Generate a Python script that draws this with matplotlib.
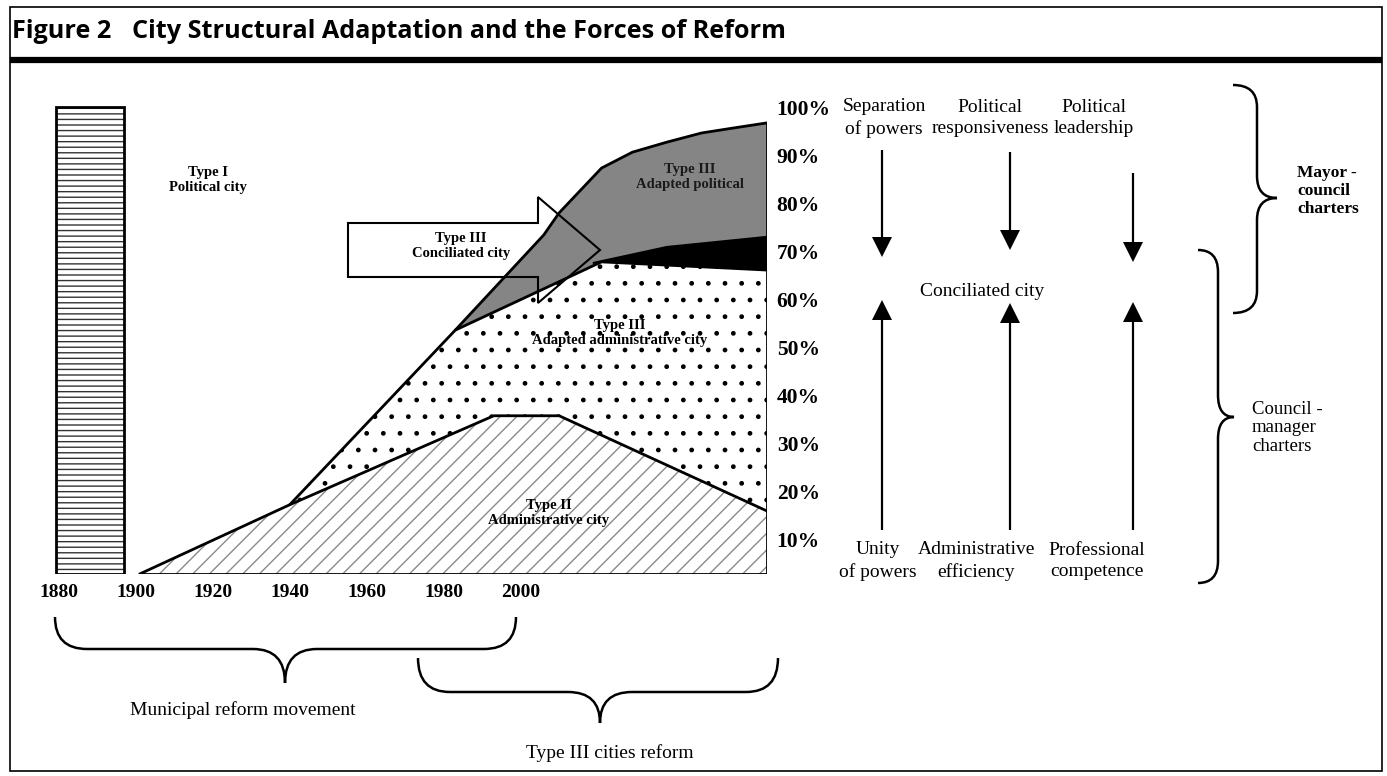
import numpy as np
import matplotlib
matplotlib.use("Agg")
import matplotlib.pyplot as plt
from matplotlib.path import Path
from matplotlib.patches import PathPatch, Polygon, Rectangle

plt.rcParams['font.family'] = ['Liberation Serif', 'DejaVu Serif']
plt.rcParams['hatch.linewidth'] = 1.0

# share of cities (%) by structural type
bar_year = 1888
bar_share = 100          # Type I political city, around 1880

base = 2.9
years_type2 = [1901, 1940, 1993, 2010, 2064]
share_type2 = [2.9, 17.3, 35.8, 35.8, 16.0]

years_outer = [1940, 1983, 2006, 2010, 2021, 2029, 2038, 2047, 2055, 2064]
share_outer = [17.3, 53.6, 73.4, 78.0, 87.3, 90.6, 92.7, 94.6, 95.6, 96.7]

years_admin = [1940, 1983, 2021, 2064]
share_admin = [17.3, 53.6, 67.8, 66.1]

years_black = [2019, 2038, 2064]
share_black = [67.6, 70.9, 73.0]

year_ticks = [1880, 1900, 1920, 1940, 1960, 1980, 2000]
pct_ticks = [10, 20, 30, 40, 50, 60, 70, 80, 90, 100]

W, H = 1387, 776
fig = plt.figure(figsize=(W / 100, H / 100), dpi=100)

# chart axes placed in pixel terms
ax = fig.add_axes([18 / W, 1 - 574 / H, (767 - 18) / W, (574 - 99.8) / H])
ax.set_xlim(1869.4, 2064)
ax.set_ylim(base, 101.5)
ax.patch.set_alpha(0)
for s in ax.spines.values():
    s.set_visible(False)

g = np.linspace(1940, 2064, 800)
t2 = np.interp(g, years_type2, share_type2)
adm = np.interp(g, years_admin, share_admin)
out = np.interp(g, years_outer, share_outer)
blk = np.where(g >= years_black[0], np.interp(g, years_black, share_black), adm)
blk = np.maximum(blk, adm)

ax.fill_between(years_type2, base, share_type2, facecolor='white',
                edgecolor='#8a8a8a', hatch='//', lw=0, zorder=2)
ax.fill_between(g, t2, adm, facecolor='white', edgecolor='black',
                hatch='.', lw=0, zorder=2)
ax.fill_between(g, blk, out, where=out > blk + 1e-6, facecolor='#858585',
                lw=0, zorder=2)
ax.fill_between(g, adm, blk, where=blk > adm, facecolor='black', lw=0, zorder=2)

lk = dict(color='black', lw=2, zorder=3, solid_capstyle='round')
ax.plot(years_type2, share_type2, **lk)
ax.plot(years_outer, share_outer, **lk)
ax.plot(years_admin[1:], share_admin[1:], **lk)
ax.plot(years_black, share_black, color='black', lw=1.5, zorder=3)
ax.plot([years_outer[-1]] * 2, [base, share_outer[-1]], **lk)
ax.plot([years_type2[0], years_type2[-1]], [base, base], **lk)

ax.bar(bar_year, bar_share - base, bottom=base, width=17.7, facecolor='white',
       edgecolor='#333333', hatch='---', lw=0, zorder=2)
ax.bar(bar_year, bar_share - base, bottom=base, width=17.7, fill=False,
       edgecolor='black', lw=2, zorder=3)

ax.set_xticks(year_ticks)
ax.set_xticklabels([str(y) for y in year_ticks], fontsize=14, fontweight='bold')
ax.tick_params(axis='x', length=0, pad=7.5)
ax.yaxis.tick_right()
ax.set_yticks(pct_ticks)
ax.set_yticklabels([f'{p}%' for p in pct_ticks], fontsize=15.5, fontweight='bold')
ax.tick_params(axis='y', length=0, pad=7)

# overlay in pixel coordinates for frame, title and annotations
ov = fig.add_axes([0, 0, 1, 1])
ov.set_xlim(0, W)
ov.set_ylim(H, 0)
ov.axis('off')
ov.patch.set_alpha(0)

ov.add_patch(Rectangle((10, 7), 1372, 764, fill=False, lw=1.2, ec='black'))
ov.plot([10, 1382], [60, 60], color='black', lw=4.5, solid_capstyle='butt')
tk = dict(family=['Open Sans', 'DejaVu Sans'], fontweight='bold',
          fontsize=18.2, va='center')
ov.text(12, 31, 'Figure 2', **tk)
ov.text(132, 31, 'City Structural Adaptation and the Forces of Reform', **tk)

# arrow shape of the conciliated city
ov.add_patch(Polygon([(348, 223), (538, 223), (538, 197), (600, 250),
                      (538, 303), (538, 277), (348, 277)], closed=True,
                     fill=False, lw=1.5, ec='black', zorder=5))

lab = dict(fontsize=10.5, fontweight='bold', ha='center', va='center',
           multialignment='center', linespacing=1.15, zorder=6)
ov.text(208, 180, 'Type I\nPolitical city', **lab)
ov.text(461, 246, 'Type III\nConciliated city', **lab)
ov.text(690, 177, 'Type III\nAdapted political', color='#1a1a1a', **lab)
ov.text(620, 333, 'Type III\nAdapted administrative city', **lab)
ov.text(549, 513, 'Type II\nAdministrative city', **lab)

# forces of reform
rt = dict(fontsize=14, ha='center', va='center', multialignment='center',
          linespacing=1.38)
ov.text(884, 118, 'Separation\nof powers', **rt)
ov.text(990, 118, 'Political\nresponsiveness', **rt)
ov.text(1094, 118, 'Political\nleadership', **rt)
ov.text(982, 292, 'Conciliated city', **rt)
ov.text(878, 561, 'Unity\nof powers', **rt)
ov.text(976, 561, 'Administrative\nefficiency', **rt)
ov.text(1097, 561, 'Professional\ncompetence', **rt)

ak = dict(width=2.2, head_width=20, head_length=20, length_includes_head=True,
          fc='black', ec='black', lw=0)
for x, y0, y1 in [(882, 150, 257), (1010, 152, 250), (1133, 173, 262)]:
    ov.arrow(x, y0, 0, y1 - y0, **ak)
for x, y1 in [(882, 300), (1010, 303), (1133, 302)]:
    ov.arrow(x, 530, 0, y1 - 530, **ak)


def vbrace(a, xl, xs, xt, y0, ym, y1, r):
    v = [(xl, y0), (xs, y0), (xs, y0 + r), (xs, ym - r), (xs, ym), (xt, ym),
         (xs, ym), (xs, ym + r), (xs, y1 - r), (xs, y1), (xl, y1)]
    c = [Path.MOVETO, Path.CURVE3, Path.CURVE3, Path.LINETO, Path.CURVE3,
         Path.CURVE3, Path.CURVE3, Path.CURVE3, Path.LINETO, Path.CURVE3,
         Path.CURVE3]
    a.add_patch(PathPatch(Path(v, c), fill=False, lw=1.8, ec='black'))


def hbrace(a, x0, x1, yt, yh, xm, ytip, r):
    v = [(x0, yt), (x0, yh), (x0 + r, yh), (xm - r, yh), (xm, yh), (xm, ytip),
         (xm, yh), (xm + r, yh), (x1 - r, yh), (x1, yh), (x1, yt)]
    c = [Path.MOVETO, Path.CURVE3, Path.CURVE3, Path.LINETO, Path.CURVE3,
         Path.CURVE3, Path.CURVE3, Path.CURVE3, Path.LINETO, Path.CURVE3,
         Path.CURVE3]
    a.add_patch(PathPatch(Path(v, c), fill=False, lw=1.8, ec='black'))


vbrace(ov, 1233, 1257, 1277, 85, 198, 313, 22)
vbrace(ov, 1198, 1218, 1234, 250, 417, 583, 22)
hbrace(ov, 55, 516, 617, 649, 285, 683, 32)
hbrace(ov, 418, 778, 658, 692, 600, 723, 32)

ov.text(1297, 191, 'Mayor -\ncouncil\ncharters', fontsize=12.5,
        fontweight='bold', ha='left', va='center', linespacing=1.2)
ov.text(1252, 428, 'Council -\nmanager\ncharters', fontsize=13.5,
        ha='left', va='center', linespacing=1.15)
ov.text(243, 710, 'Municipal reform movement', fontsize=14, ha='center', va='center')
ov.text(610, 753, 'Type III cities reform', fontsize=14, ha='center', va='center')

fig.savefig('out.png', dpi=100, facecolor='white')
